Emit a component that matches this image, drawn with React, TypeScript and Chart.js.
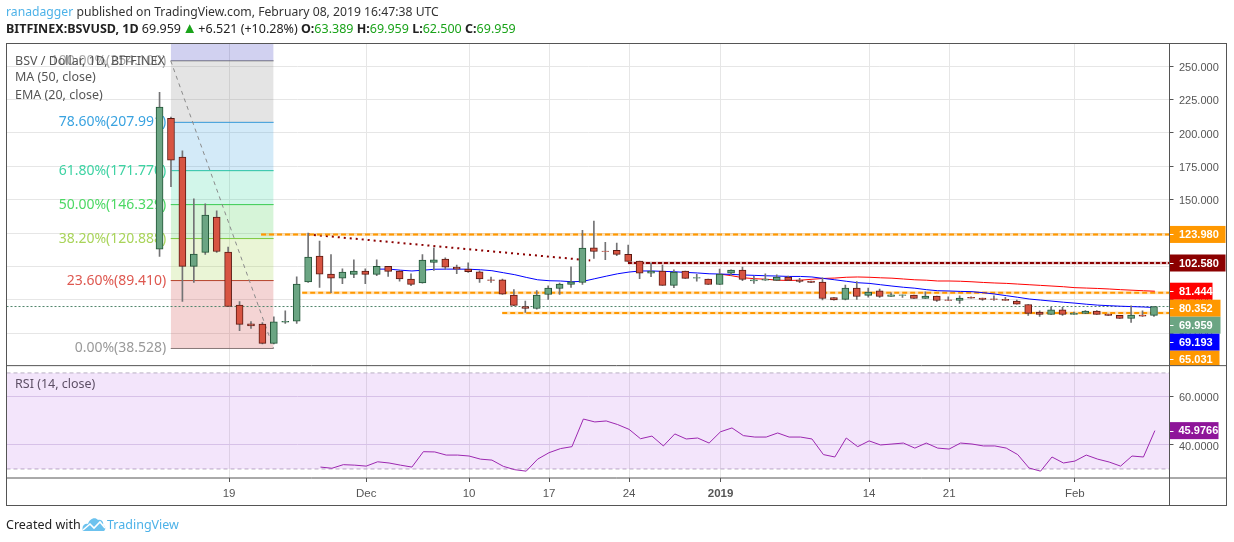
import { useEffect, useRef } from "react"
import { Chart, registerables } from "chart.js"

Chart.register(...registerables)

// day numbers count from 19 Nov 2018 (day 0)
const firstCandleDay = -6
const candleNudge = -0.08
const opens = [113, 211, 181.9, 100, 110.5, 137, 110.8, 71, 57, 56.9, 42.4, 58.2, 59, 88.4, 107.8, 94.3, 91.3, 94, 96.5, 94, 100, 96.5, 90.6, 87.6, 103, 105.5, 99.5, 98, 96, 90, 90, 78.6, 70, 68.5, 79, 83.5, 86.5, 88, 114, 111.5, 112, 109, 104, 95, 96.5, 85.8, 96.5, 91.3, 90.5, 86.5, 95, 97.3, 89.1, 89.7, 89.5, 92, 89.8, 89, 88.3, 76.6, 75.3, 83.8, 78.3, 81.7, 77.5, 78.3, 78.6, 76, 77.8, 75, 74.5, 76.8, 76.3, 75.7, 75.4, 74, 71.5, 65.8, 64, 67.4, 64, 64.8, 66.5, 64.3, 63.3, 61, 63.6, 63.389]
const highs = [230.5, 212, 186.6, 150.7, 147, 141.7, 114.5, 73.6, 58.6, 58, 62.3, 66.8, 92.3, 125, 119, 108.8, 98.2, 105, 98.2, 105, 100, 97, 94.5, 108.8, 114, 106.5, 101, 102.8, 96.8, 92, 90.5, 82.6, 74, 82, 85.4, 87.5, 99.8, 127, 134, 118, 117.5, 116, 104, 102.5, 101, 97.5, 96.5, 94, 90.5, 98, 97.5, 99.5, 92.5, 94.5, 93.8, 92.7, 91, 89, 91.5, 76.6, 86, 88.6, 83.8, 83, 80.3, 78.8, 78.6, 81, 77.8, 77.3, 78, 77.3, 76.3, 78, 76.8, 74.8, 71.5, 66.8, 69.3, 69.3, 65.8, 67, 67, 64.3, 63.3, 70.5, 66.7, 69.959]
const lows = [107.5, 159.7, 73.8, 88, 109, 110.5, 70, 51.9, 53.6, 42, 42, 57.3, 57.3, 88, 84.3, 80.3, 87, 91.5, 87, 93, 92.5, 89, 85.5, 87.5, 97, 98, 94.6, 95.6, 88, 88, 79, 70.6, 65.6, 68, 75.3, 79, 84.3, 86.5, 106, 105, 108, 103.8, 90.8, 92.3, 85.8, 84, 91, 89, 86.5, 86.5, 93, 89.3, 87.3, 89.5, 89.5, 89.3, 87.8, 87.8, 75, 74.8, 75, 75.3, 77, 76.8, 77.5, 76.8, 76, 76, 73.8, 74.5, 72.3, 76.3, 74.5, 74.5, 74.5, 71.8, 63.3, 62.6, 64, 63.3, 64, 64.6, 64, 63.3, 61, 58, 62.5, 62.5]
const closes = [219.5, 179.6, 100, 109.3, 138.5, 111.2, 70, 56.6, 55.5, 42.4, 58.4, 58.9, 86.8, 107, 94.3, 91.3, 95.8, 96.5, 94, 100, 96.3, 90.6, 86.6, 104.8, 105, 99.5, 98, 96, 90.6, 89.5, 79.2, 70.8, 68.5, 78.6, 83.8, 86.8, 88.4, 113.8, 111.2, 111.2, 109, 103.8, 95, 96.5, 85.8, 95.8, 91, 91.6, 86.5, 94.2, 97.3, 90.3, 90, 90.5, 92, 89.5, 88.8, 88, 76, 75, 83.8, 77.5, 80.8, 77.5, 78.8, 78.8, 76, 77.8, 74.5, 74.5, 76.3, 76.3, 75.3, 75.3, 74.5, 71.8, 64.8, 64, 67.4, 64, 65, 66.5, 64, 63.3, 61, 63.6, 62.8, 69.959]

const emaStartDay = 13
const ema20 = [98, 98, 97.2, 96.6, 97.2, 97.9, 98, 98, 97.9, 97.5, 96.8, 95.3, 93.8, 91.8, 90, 89.3, 89.1, 88.5, 88.9, 90.8, 92.7, 94.5, 95.8, 96.6, 96.6, 96.3, 96, 95.5, 95.1, 94.5, 94.3, 94, 93.6, 93.3, 93, 92.8, 92.5, 92.5, 92.1, 91, 90, 88.9, 87.8, 87.3, 86.3, 85.3, 84.4, 83.7, 82.6, 81.8, 81.6, 81.3, 81.1, 80.3, 79.3, 78.1, 76.9, 75.6, 74.8, 74, 73.2, 72.5, 71.7, 71, 70.6, 70.2, 69.9, 69.6, 69.193]
const maStartDay = 43
const ma50 = [94.2, 93, 91.5, 90.8, 90.4, 89.7, 89.5, 89.7, 90.4, 91, 91.3, 91.9, 92.1, 91.9, 91.5, 91.2, 90.6, 90, 89.7, 89.1, 89.1, 88.9, 88.5, 88, 87.6, 87.3, 86.8, 86.3, 85.8, 85.3, 84.8, 84.1, 83.8, 83.5, 83.1, 82.6, 82.2, 81.8, 81.444]
const rsiStartDay = 8
const rsi14 = [30.8, 30.3, 31.8, 31.6, 31.2, 33, 32.5, 31.6, 30.8, 37.2, 37.1, 35.8, 35.8, 35.4, 34.1, 33.7, 31.1, 29.7, 29.1, 34.1, 36.8, 38.5, 39.3, 50.8, 49.6, 50, 48.5, 46.5, 42.6, 43.7, 39.6, 44.6, 42.5, 42.9, 40.8, 45.5, 47.1, 43.9, 43.3, 43.3, 45, 43.3, 43.3, 42.5, 36, 35, 42.9, 39.3, 41.7, 40, 40.4, 40.8, 38.7, 40.8, 38.7, 38.3, 40.8, 40.4, 39.6, 39.6, 38.7, 36, 30.4, 29.1, 35, 32.5, 33.3, 35.8, 34.1, 32.9, 31.2, 35.4, 35, 45.9766]

const dayTicks = [0, 12, 21, 28, 35, 43, 56, 63, 74]
const dayLabels = ["19", "Dec", "10", "17", "24", "2019", "14", "21", "Feb"]
const priceTicks = [50, 75, 100, 125, 150, 175, 200, 225, 250]
const rsiTicks = [40, 60]

const fibLevels = [267.07, 254.1, 207.991, 171.77, 146.329, 120.888, 89.41, 38.528]
const fibNames = ["", "100.00%(254.100)", "78.60%(207.991)", "61.80%(171.770)", "50.00%(146.329)", "38.20%(120.888)", "23.60%(89.410)", "0.00%(38.528)"]
const fibLineColors = ["rgba(0,0,0,0)", "#787878", "#2f9bdc", "#26c99a", "#3cc94a", "#85c83c", "#b8342a", "#808080"]
const fibTextColors = ["", "#a8a8a8", "#3aa3e0", "#3dd3a3", "#4cd964", "#a9d45a", "#de5850", "#9a9a9a"]
const fibFills = ["rgba(25,25,180,0.2)", "rgba(120,120,120,0.2)", "rgba(33,150,220,0.2)", "rgba(30,210,150,0.2)", "rgba(50,200,60,0.2)", "rgba(150,205,50,0.2)", "rgba(200,40,40,0.2)", "rgba(0,0,0,0)"]

// price, colour, tag right edge: same order as the tags stack down the axis
const tagValues = [123.98, 102.58, 81.444, 80.352, 69.959, 69.193, 65.031]
const tagColors = ["#ff9800", "#8b0000", "#ff0000", "#ff9800", "#6ba583", "#0000ff", "#ff9800"]
const tagWidths = [56, 56, 43, 51, 51, 50, 50]

const xMin = -19.47
const xMax = 82.28
const priceMin = 25.67
const priceMax = 267.07
const rsiMin = 26.25
const rsiMax = 73.04
const fibStart = -5.1
const fibEnd = 3.9

const axisFont = "'Liberation Sans', Arial, sans-serif"
const textFont = "'Noto Sans', sans-serif"

const span = (from: number, to: number, level: number) => [
  { x: from, y: level },
  { x: to, y: level },
]
const series = (start: number, values: number[]) => values.map((y, i) => ({ x: start + i, y }))

const panesPlugin = {
  id: "panes",
  beforeDatasetsDraw(chart: any) {
    const { ctx, scales } = chart
    ctx.save()
    ctx.textBaseline = "middle"
    ctx.font = `14px ${textFont}`
    ctx.textAlign = "right"
    fibLevels.forEach((level, i) => {
      if (!fibNames[i]) return
      ctx.fillStyle = fibTextColors[i]
      ctx.fillText(fibNames[i], scales.x.getPixelForValue(fibStart) - 4.5, scales.y.getPixelForValue(level))
    })
    ctx.font = `12.5px ${textFont}`
    ctx.textAlign = "left"
    ctx.fillStyle = "#555"
    ctx.fillText("BSV / Dollar, 1D, BITFINEX", 15, 61)
    ctx.fillText("MA (50, close)", 15, 77)
    ctx.fillText("EMA (20, close)", 15, 95)
    ctx.fillText("RSI (14, close)", 15, 384)
    ctx.restore()
  },
  afterDraw(chart: any) {
    const { ctx, chartArea, scales } = chart
    const { left, right, bottom, top } = chartArea
    const outer = right + 57
    const split = scales.y.bottom
    ctx.save()
    // tags that would overlap are pushed down, as the original axis does
    ctx.font = `bold 11px ${axisFont}`
    ctx.textBaseline = "middle"
    ctx.textAlign = "left"
    ctx.save()
    ctx.beginPath()
    ctx.rect(right, top, 60, split - top)
    ctx.clip()
    let last = -100
    tagValues.forEach((value, i) => {
      const y = Math.max(scales.y.getPixelForValue(value), last + 17)
      last = y
      ctx.fillStyle = tagColors[i]
      ctx.fillRect(right, y - 8.5, tagWidths[i], 17)
      ctx.fillStyle = "#fff"
      ctx.fillRect(right, Math.round(y), 4, 1)
      ctx.fillText(value.toFixed(3), right + 9.5, y + 0.5)
    })
    ctx.restore()
    const rsiY = scales.yRsi.getPixelForValue(rsi14[rsi14.length - 1])
    ctx.fillStyle = "#8e1599"
    ctx.fillRect(right, rsiY - 8.5, 49, 17)
    ctx.fillStyle = "#fff"
    ctx.fillRect(right, Math.round(rsiY), 4, 1)
    ctx.fillText(rsi14[rsi14.length - 1].toFixed(4), right + 9, rsiY + 0.5)

    ctx.strokeStyle = "#555"
    ctx.lineWidth = 1
    ctx.strokeRect(left, top, outer - left, bottom + 27.5 - top)
    ctx.beginPath()
    ctx.moveTo(left, split)
    ctx.lineTo(outer, split)
    ctx.moveTo(left, bottom)
    ctx.lineTo(outer, bottom)
    ctx.moveTo(right, top)
    ctx.lineTo(right, bottom + 27.5)
    ctx.stroke()
    ctx.restore()
  },
}

export default function App() {
  const chartRef = useRef<HTMLCanvasElement>(null)

  useEffect(() => {
    if (!chartRef.current) return
    const days = opens.map((_, i) => firstCandleDay + i + candleNudge)
    const bodyFill = opens.map((o, i) => (closes[i] >= o ? "#6ba583" : "#d75442"))
    const bodyEdge = opens.map((o, i) => (closes[i] >= o ? "#225437" : "#5b1a13"))

    const fibSets = fibLevels.map((level, i) => ({
      type: "line",
      data: span(fibStart, fibEnd, level),
      yAxisID: "y",
      borderColor: fibLineColors[i],
      borderWidth: 1,
      pointRadius: 0,
      fill: i < fibLevels.length - 1 ? "+1" : false,
      backgroundColor: fibFills[i],
      order: 5,
    }))

    const level = (data: any[], color: string, dash: number[], width: number, order = 3) => ({
      type: "line",
      data,
      yAxisID: "y",
      borderColor: color,
      borderDash: dash,
      borderWidth: width,
      pointRadius: 0,
      fill: false,
      order,
    })

    const orange = "rgba(255,152,0,0.28)"
    const maroon = "rgba(139,0,0,0.25)"

    const chart = new Chart(chartRef.current, {
      type: "bar",
      data: {
        datasets: [
          {
            data: days.map((x, i) => ({ x, y: [opens[i], closes[i]] })),
            yAxisID: "y",
            backgroundColor: bodyFill,
            borderColor: bodyEdge,
            borderWidth: 1,
            borderSkipped: false,
            barThickness: 7,
            grouped: false,
            order: 0,
          },
          {
            data: days.map((x, i) => ({ x, y: [lows[i], highs[i]] })),
            yAxisID: "y",
            backgroundColor: "#737375",
            barThickness: 1,
            grouped: false,
            order: 1,
          },
          level(series(emaStartDay, ema20), "#0000ff", [], 1, 2),
          level(series(maStartDay, ma50), "#ff0000", [], 1, 2),
          level(span(2.8, xMax, tagValues[0]), "#ff9800", [5, 3], 2),
          level(span(6.4, xMax, tagValues[3]), "#ff9800", [5, 3], 2),
          level(span(23.9, xMax, tagValues[6]), "#ff9800", [5, 3], 2),
          level(span(34.9, xMax, tagValues[1]), "#8b0000", [4, 2], 2),
          level(span(2.8, xMax, tagValues[0]), orange, [], 3, 4),
          level(span(6.4, xMax, tagValues[3]), orange, [], 3, 4),
          level(span(23.9, xMax, tagValues[6]), orange, [], 3, 4),
          level(span(34.9, xMax, tagValues[1]), maroon, [], 3, 4),
          level([{ x: 6.9, y: 124 }, { x: 31.6, y: 104.5 }], "#8b0000", [2, 4], 2),
          level(span(xMin, xMax, closes[closes.length - 1]), "#50856b", [2, 2], 1),
          level([{ x: fibStart, y: fibLevels[1] }, { x: fibEnd, y: fibLevels[7] }], "#8a8a8a", [4, 4], 1, 4),
          ...fibSets,
          {
            type: "line",
            data: series(rsiStartDay, rsi14),
            yAxisID: "yRsi",
            borderColor: "#9c27b0",
            borderWidth: 1,
            pointRadius: 0,
            fill: false,
            order: 2,
          },
          {
            type: "line",
            data: span(xMin, xMax, 70),
            yAxisID: "yRsi",
            borderColor: "#b9b0c2",
            borderDash: [4, 3],
            borderWidth: 1,
            pointRadius: 0,
            fill: "+1",
            backgroundColor: "rgba(156,39,220,0.12)",
            order: 4,
          },
          {
            type: "line",
            data: span(xMin, xMax, 30),
            yAxisID: "yRsi",
            borderColor: "#b9b0c2",
            borderDash: [4, 3],
            borderWidth: 1,
            pointRadius: 0,
            fill: false,
            order: 4,
          },
        ] as any,
      },
      options: {
        animation: false,
        responsive: false,
        events: [],
        layout: { padding: { left: 6.5, top: 43.5, right: 7.5, bottom: 36.5 } },
        plugins: { legend: { display: false }, tooltip: { enabled: false } },
        scales: {
          x: {
            type: "linear",
            min: xMin,
            max: xMax,
            offset: false,
            afterBuildTicks: (s: any) => {
              s.ticks = dayTicks.map((value) => ({ value }))
            },
            afterFit: (s: any) => {
              s.height = 27.5
            },
            grid: { offset: false, color: "#e6e6e6", tickColor: "#555", tickLength: 4 },
            border: { display: false },
            ticks: {
              autoSkip: false,
              maxRotation: 0,
              padding: 5,
              color: "#555",
              font: (c: any) => ({
                family: axisFont,
                size: 11.5,
                weight: c.tick && c.tick.value === 43 ? "bold" : "normal",
              }),
              callback: (v: any) => dayLabels[dayTicks.indexOf(Number(v))],
            },
          },
          y: {
            type: "linear",
            position: "right",
            stack: "panes",
            stackWeight: 322.5,
            min: priceMin,
            max: priceMax,
            afterBuildTicks: (s: any) => {
              s.ticks = priceTicks.map((value) => ({ value }))
            },
            afterFit: (s: any) => {
              s.width = 57
            },
            grid: { color: "#e6e6e6", tickColor: "#555", tickLength: 4 },
            border: { display: false },
            ticks: {
              padding: 5.5,
              labelOffset: 1.5,
              color: "#555",
              font: { family: axisFont, size: 11 },
              callback: (v: any) => Number(v).toFixed(3),
            },
          },
          yRsi: {
            type: "linear",
            position: "right",
            stack: "panes",
            stackWeight: 112.5,
            min: rsiMin,
            max: rsiMax,
            afterBuildTicks: (s: any) => {
              s.ticks = rsiTicks.map((value) => ({ value }))
            },
            afterFit: (s: any) => {
              s.width = 57
            },
            grid: { color: "#e0d6ea", tickColor: "#555", tickLength: 4 },
            border: { display: false },
            ticks: {
              padding: 5.5,
              labelOffset: 1.5,
              color: "#555",
              font: { family: axisFont, size: 11 },
              callback: (v: any) => Number(v).toFixed(4),
            },
          },
        },
      } as any,
      plugins: [panesPlugin],
    })

    return () => chart.destroy()
  }, [])

  const green = { color: "#1aa31a" }

  return (
    <div style={{ position: "absolute", left: 0, top: 0, width: 1234, height: 542, background: "#fff", overflow: "hidden" }}>
      <canvas ref={chartRef} width={1234} height={542} style={{ position: "absolute", left: 0, top: 0 }} />
      <div style={{ position: "absolute", left: 6, top: 3, font: `12.2px ${textFont}`, color: "#333", whiteSpace: "nowrap" }}>
        <span style={{ color: "#4db2e8" }}>ranadagger</span> published on TradingView.com, February 08, 2019 16:47:38 UTC
      </div>
      <div style={{ position: "absolute", left: 6, top: 20, font: `12.5px ${textFont}`, color: "#222", whiteSpace: "nowrap" }}>
        <b>BITFINEX:BSVUSD, 1D</b> 69.959{" "}
        <span style={{ ...green, fontSize: 15, lineHeight: 1, marginLeft: -2, marginRight: -2 }}>▲</span> +6.521 (+10.28%) <b>O:</b>
        <span style={green}>63.389</span> <b>H:</b>
        <span style={green}>69.959</span> <b>L:</b><span style={green}>62.500</span> <b>C:</b><span style={green}>69.959</span>
      </div>
      <div style={{ position: "absolute", left: 6, top: 516, font: `12.5px ${textFont}`, color: "#222", whiteSpace: "nowrap" }}>Created with</div>
      <svg width="24" height="15" viewBox="0 0 24 15" style={{ position: "absolute", left: 82, top: 517 }}>
        <path d="M1 14 C-1 9 3 6 6 7 C7 2 13 -1 16 3 C20 2 22 6 21 8 C24 9 24 14 21 14 Z" fill="#6cc2ee" />
        <path d="M1 13 L8 7 L12 11 L18 5 L23 11" stroke="#fff" strokeWidth="1.6" fill="none" />
      </svg>
      <div style={{ position: "absolute", left: 107, top: 516, font: `12.5px ${textFont}`, color: "#4db2e8", whiteSpace: "nowrap" }}>TradingView</div>
    </div>
  )
}
